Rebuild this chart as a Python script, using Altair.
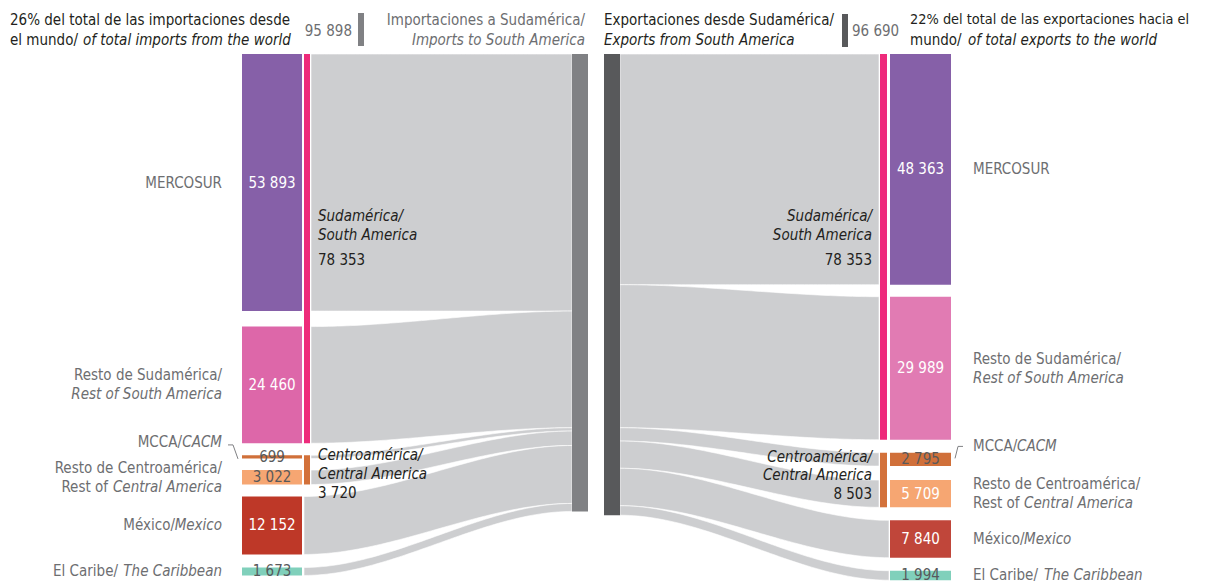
import altair as alt
import pandas as pd
import numpy as np

# ---------------- data ----------------
region_keys = ["MERCOSUR", "RestoSA", "MCCA", "RestoCA", "Mexico", "Caribe"]
imports_values = [53893, 24460, 699, 3022, 12152, 1673]
exports_values = [48363, 29989, 2795, 5709, 7840, 1994]
group_es = ["Sudamérica/", "Centroamérica/"]
group_en = ["South America", "Central America"]
imports_group_totals = [78353, 3720]
exports_group_totals = [78353, 8503]
imports_total = 95898
exports_total = 96690
imports_share = "26%"
exports_share = "22%"

# label lines: list of lines, each line = list of (text, italic)
region_labels = [
    [[("MERCOSUR", False)]],
    [[("Resto de Sudamérica/", False)], [("Rest of South America", True)]],
    [[("MCCA/", False), ("CACM", True)]],
    [[("Resto de Centroamérica/", False)], [("Rest of", False), ("Central America", True)]],
    [[("México/", False), ("Mexico", True)]],
    [[("El Caribe/", False), ("The Caribbean", True)]],
]

# ---------------- styles / layout ----------------
FONT = "DejaVu Sans Condensed, Liberation Sans Narrow, sans-serif"
FS = 15
W, H = 1189, 575
K = 0.00477            # px per unit (million USD)
TOP = 54               # page y of value 0
GAPS_L_PX = [15.5, 12, 11.5, 12, 13]
GAPS_R_PX = [12, 13, 14, 13, 13]

colors_left = ["#8660A8", "#DD67A9", "#D0703A", "#F6A672", "#BE3828", "#80D0BB"]
colors_right = ["#8660A8", "#E17BB3", "#D0703A", "#F6A672", "#C0463A", "#80D0BB"]
val_col_left = ["white", "white", "#58595B", "#58595B", "white", "#58595B"]
val_col_right = ["white", "white", "#58595B", "white", "white", "#58595B"]
GROUP_COLORS = ["#EE2B7B", "#D3713A"]
FLOW = "#CDCED0"
BAR_LEFT = "#808184"
BAR_RIGHT = "#58595B"
LABEL_GRAY = "#6D6E71"
DARK = "#231F20"


def u(page_y):
    return (page_y - TOP) / K


def fmt(v):
    return f"{v:,}".replace(",", " ")


def stack_gaps(vals, gaps_px):
    out, y = [], 0.0
    for i, v in enumerate(vals):
        out.append((y, y + v))
        if i < len(gaps_px):
            y += v + gaps_px[i] / K
    return out


def stack(vals):
    out, y = [], 0.0
    for v in vals:
        out.append((y, y + v))
        y += v
    return out


left_blocks = stack_gaps(imports_values, GAPS_L_PX)
right_blocks = stack_gaps(exports_values, GAPS_R_PX)
left_target = stack(imports_values)
right_source = stack(exports_values)

rects, texts, rules, flows = [], [], [], []


def T(x, y, t, al, it, c, fs=FS):
    texts.append(dict(x=x, y=y, t=t, al=al, it=it, c=c, fs=fs))


# blocks
for i in range(6):
    a, b = left_blocks[i]
    rects.append(dict(x=242, x2=302, y=a, y2=b, c=colors_left[i]))
    T(272, (a + b) / 2, fmt(imports_values[i]), "center", False, val_col_left[i])
    a, b = right_blocks[i]
    rects.append(dict(x=890, x2=951, y=a, y2=b, c=colors_right[i]))
    T(920.5, (a + b) / 2, fmt(exports_values[i]), "center", False, val_col_right[i])

# group bars
for g, (i0, i1) in enumerate([(0, 1), (2, 3)]):
    rects.append(dict(x=304, x2=310, y=left_blocks[i0][0], y2=left_blocks[i1][1], c=GROUP_COLORS[g]))
    rects.append(dict(x=880, x2=887, y=right_blocks[i0][0], y2=right_blocks[i1][1], c=GROUP_COLORS[g]))

# total bars
rects.append(dict(x=572, x2=588, y=0, y2=imports_total, c=BAR_LEFT))
rects.append(dict(x=604, x2=620, y=0, y2=exports_total, c=BAR_RIGHT))
# header swatches
rects.append(dict(x=358, x2=364, y=u(13), y2=u(46), c=BAR_LEFT))
rects.append(dict(x=842, x2=848, y=u(14), y2=u(47), c=BAR_RIGHT))

# flows
steps = np.linspace(0, 1, 60)
ease = steps * steps * (3 - 2 * steps)
for i in range(6):
    xa = 311 if i < 4 else 304
    xb = 572
    (s0, s1), (t0, t1) = left_blocks[i], left_target[i]
    for s, e in zip(steps, ease):
        flows.append(dict(f=f"L{i}", x=xa + s * (xb - xa), y=s0 + (t0 - s0) * e, y2=s1 + (t1 - s1) * e))
    xa = 620
    xb = 879 if i < 4 else 889
    (s0, s1), (t0, t1) = right_source[i], right_blocks[i]
    for s, e in zip(steps, ease):
        flows.append(dict(f=f"R{i}", x=xa + s * (xb - xa), y=s0 + (t0 - s0) * e, y2=s1 + (t1 - s1) * e))

# region labels (mixed-style lines: normal end / italic start)
junc_left = {2: 182, 3: 108, 4: 175, 5: 118}
junc_right = {2: 1017, 3: 1024, 4: 1024, 5: 1044}
mcca_offset = {"L": -15, "R": -13}
LINE = 19.0
for side in ("L", "R"):
    blocks = left_blocks if side == "L" else right_blocks
    for i, lines in enumerate(region_labels):
        mid_px = TOP + (blocks[i][0] + blocks[i][1]) / 2 * K
        if i == 2:
            mid_px += mcca_offset[side]
        n = len(lines)
        for li, parts in enumerate(lines):
            py = mid_px + (li - (n - 1) / 2) * LINE
            if len(parts) == 1:
                txt, it = parts[0]
                if side == "L":
                    T(222, u(py), txt, "right", it, LABEL_GRAY)
                else:
                    T(973, u(py), txt, "left", it, LABEL_GRAY)
            else:
                if side == "L":
                    T(junc_left[i], u(py), parts[0][0], "right", False, LABEL_GRAY)
                    T(222, u(py), parts[1][0], "right", True, LABEL_GRAY)
                else:
                    T(973, u(py), parts[0][0], "left", False, LABEL_GRAY)
                    T(junc_right[i], u(py), parts[1][0], "left", True, LABEL_GRAY)
        if i == 2:
            if side == "L":
                rules.append(dict(x=228, x2=233, y=u(mid_px + 3), y2=u(mid_px + 3)))
                rules.append(dict(x=233, x2=238, y=u(mid_px + 3), y2=u(mid_px + 17)))
            else:
                rules.append(dict(x=958, x2=963, y=u(mid_px), y2=u(mid_px)))
                rules.append(dict(x=958, x2=955, y=u(mid_px), y2=u(mid_px + 12)))

# group labels in the flow area
T(318, u(216), group_es[0], "left", True, DARK)
T(318, u(235), group_en[0], "left", True, DARK)
T(318, u(260), fmt(imports_group_totals[0]), "left", False, DARK)
T(318, u(455), group_es[1], "left", True, DARK)
T(318, u(474), group_en[1], "left", True, DARK)
T(318, u(493), fmt(imports_group_totals[1]), "left", False, DARK)
T(872, u(216), group_es[0], "right", True, DARK)
T(872, u(235), group_en[0], "right", True, DARK)
T(872, u(260), fmt(exports_group_totals[0]), "right", False, DARK)
T(872, u(457), group_es[1], "right", True, DARK)
T(872, u(475), group_en[1], "right", True, DARK)
T(872, u(494), fmt(exports_group_totals[1]), "right", False, DARK)

# header
T(10, u(20), f"{imports_share} del total de las importaciones desde", "left", False, DARK)
T(10, u(40), "el mundo/", "left", False, DARK)
T(83, u(40), "of total imports from the world", "left", True, DARK)
T(352, u(31), fmt(imports_total), "right", False, LABEL_GRAY)
T(585, u(20), "Importaciones a Sudamérica/", "right", False, LABEL_GRAY)
T(585, u(40), "Imports to South America", "right", True, LABEL_GRAY)
T(604, u(20), "Exportaciones desde Sudamérica/", "left", False, DARK)
T(604, u(40), "Exports from South America", "left", True, DARK)
T(852, u(31), fmt(exports_total), "left", False, LABEL_GRAY)
T(910, u(20), f"{exports_share} del total de las exportaciones hacia el", "left", False, DARK, 14.4)
T(910, u(40), "mundo/", "left", False, DARK)
T(968, u(40), "of total exports to the world", "left", True, DARK)

# ---------------- chart ----------------
XS = alt.Scale(domain=[8, 8 + W], nice=False, zero=False)
YS = alt.Scale(domain=[-(TOP - 8) / K, (H - (TOP - 8)) / K], reverse=True, nice=False, zero=False)

flow_layer = alt.Chart(pd.DataFrame(flows)).mark_area(
    orient="vertical", fill=FLOW, stroke="white", strokeWidth=0.6, interpolate="linear"
).encode(
    x=alt.X("x:Q", scale=XS, axis=None),
    y=alt.Y("y:Q", scale=YS, axis=None),
    y2="y2:Q",
    detail="f:N",
)

rect_layer = alt.Chart(pd.DataFrame(rects)).mark_rect().encode(
    x=alt.X("x:Q", scale=XS, axis=None),
    x2="x2:Q",
    y=alt.Y("y:Q", scale=YS, axis=None),
    y2="y2:Q",
    color=alt.Color("c:N", scale=None),
)

rule_layer = alt.Chart(pd.DataFrame(rules)).mark_rule(color="#808184", strokeWidth=1).encode(
    x=alt.X("x:Q", scale=XS, axis=None),
    x2="x2:Q",
    y=alt.Y("y:Q", scale=YS, axis=None),
    y2="y2:Q",
)

tdf = pd.DataFrame(texts)
text_layers = []
for (al, it), sub in tdf.groupby(["al", "it"]):
    text_layers.append(
        alt.Chart(sub).mark_text(
            align=al, baseline="middle", font=FONT,
            fontStyle="italic" if it else "normal",
        ).encode(
            x=alt.X("x:Q", scale=XS, axis=None),
            y=alt.Y("y:Q", scale=YS, axis=None),
            text="t:N",
            color=alt.Color("c:N", scale=None),
            size=alt.Size("fs:Q", scale=None, legend=None),
        )
    )

chart = alt.layer(flow_layer, rect_layer, rule_layer, *text_layers).properties(
    width=W, height=H, autosize=alt.AutoSizeParams(type="none"), padding=0
).configure_view(stroke=None)

chart.save("out.html", embed_options={"renderer": "svg", "actions": False})
